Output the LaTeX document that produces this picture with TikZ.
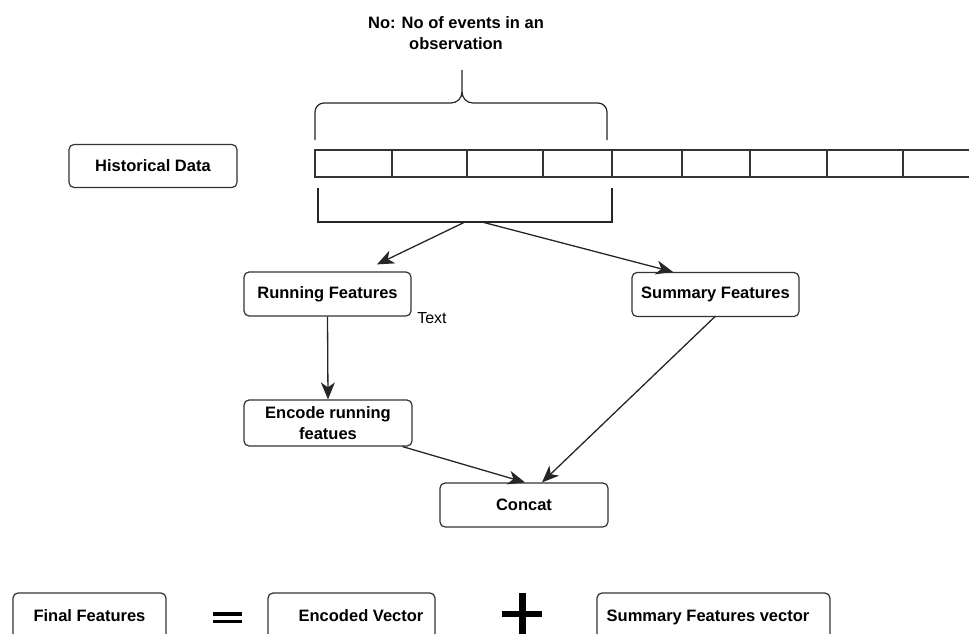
\documentclass[tikz,border=0pt]{standalone}
\usepackage{fontspec}
\setmainfont{Liberation Sans}
\usetikzlibrary{arrows.meta,calc}

\tikzset{
  box/.style={draw=black!80, line width=1.2pt, rounded corners=5pt, fill=white,
    inner sep=0pt, font=\fontsize{16.5}{21}\selectfont\bfseries, align=center},
  headtip/.tip={Stealth[length=17pt,width=14pt,inset=5pt]},
  link/.style={draw=black!85, line width=1.3pt, -headtip},
  strip/.style={draw=black!80, line width=1.4pt},
  plain/.style={font=\fontsize{16.5}{21}\selectfont\bfseries, align=center, inner sep=0pt},
}

\begin{document}
\begin{tikzpicture}[x=1pt, y=-1pt]
  \useasboundingbox (0,0) rectangle (969,634);
  \clip (0,0) rectangle (969,634);

  % heading above the brace
  \node[plain] (head) at (456,33) {No: No of events in an\\observation};

  % curly brace over one observation window
  \draw[line width=1.2pt, draw=black!85]
    (315,140) -- (315,112) to[out=90,in=180] (324,103) -- (451,103)
    to[out=0,in=-90] (462,92) -- (462,70);
  \draw[line width=1.2pt, draw=black!85]
    (607,140) -- (607,112) to[out=90,in=0] (598,103) -- (473,103)
    to[out=180,in=-90] (462,92);

  % event strip
  \draw[strip] (315,150) rectangle (985,177);
  \foreach \xx in {392,467,543,612,682,750,827,903}
    \draw[strip] (\xx,150) -- (\xx,177);

  % square bracket under the window
  \draw[line width=1.2pt, draw=black!85] (318,188) -- (318,222) -- (612,222) -- (612,188);
  \coordinate (apexL) at (465,222);
  \coordinate (apexR) at (482,222);

  % nodes
  \node[box, minimum width=168pt, minimum height=43pt] (hist) at (153,166) {Historical Data};
  \node[box, minimum width=167pt, minimum height=44pt] (run) at (327.5,294) {\raisebox{3pt}{Running Features}};
  \node[box, minimum width=167pt, minimum height=44pt] (sum) at (715.5,294.5) {\raisebox{1pt}{Summary Features}};
  \node[box, minimum width=168pt, minimum height=46pt] (enc) at (328,423) {Encode running\\featues};
  \node[box, minimum width=168pt, minimum height=44pt] (cat) at (524,505) {Concat};
  \node[font=\fontsize{16}{18}\selectfont, inner sep=0pt] (txt) at (432,318) {Text};

  % connectors
  \draw[link] (apexL) -- ([xshift=49.5pt,yshift=7pt]run.north);
  \draw[link] (apexR) -- ([xshift=-42.5pt]sum.north);
  \draw[link] (run.south) -- (enc.north);
  \draw[link] ([xshift=-10pt]enc.south east) -- ([xshift=1pt]cat.north);
  \draw[link] ([yshift=1pt]sum.south) -- ([xshift=18pt]cat.north);

  % bottom equation
  \node[box, minimum width=153pt, minimum height=50pt] (fin) at (89.5,618) {\raisebox{5pt}{Final Features}};
  \node[box, minimum width=167pt, minimum height=50pt] (vec) at (351.5,618) {\raisebox{5pt}{\hspace*{19pt}Encoded Vector}};
  \node[box, minimum width=233pt, minimum height=50pt] (svec) at (713.5,618) {\raisebox{5pt}{\hspace*{-11pt}Summary Features vector}};

  % equals and plus signs
  \fill[black] (213,612) rectangle (242,615.5);
  \fill[black] (213,619.5) rectangle (242,623);
  \fill[black] (518.5,593) rectangle (525.5,640);
  \fill[black] (502,611) rectangle (542,617);
\end{tikzpicture}
\end{document}
